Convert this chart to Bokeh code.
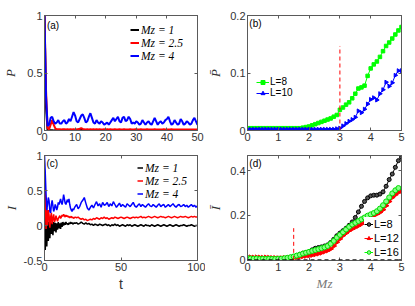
import math
from bokeh.plotting import figure
from bokeh.layouts import row, column
from bokeh.models import Legend, LegendItem, Label, Span, FixedTicker, LinearAxis
from bokeh.embed import file_html
from bokeh.resources import INLINE

# ---------------- data ----------------
# panel (a): P vs t
t_a = [i * 0.5 for i in range(101)]
p_a_mz1 = [1.0, 0.2, 0.0, 0.004, 0.002, 0.003, 0.001, 0.002, 0.003, 0.002,
           0.002, 0.003, 0.001, 0.002, 0.003, 0.002, 0.001, 0.002, 0.003, 0.002,
           0.002, 0.001, 0.003, 0.002, 0.004, 0.002, 0.001, 0.002, 0.002, 0.003,
           0.002, 0.001, 0.002, 0.003, 0.002, 0.001, 0.002, 0.002, 0.003, 0.002,
           0.001, 0.002, 0.003, 0.002, 0.001, 0.002, 0.002, 0.003, 0.002, 0.001,
           0.002, 0.003, 0.002, 0.001, 0.002, 0.002, 0.003, 0.002, 0.001, 0.002,
           0.003, 0.002, 0.001, 0.002, 0.002, 0.003, 0.002, 0.001, 0.002, 0.003,
           0.002, 0.001, 0.002, 0.002, 0.003, 0.002, 0.001, 0.002, 0.003, 0.002,
           0.001, 0.002, 0.002, 0.003, 0.002, 0.001, 0.002, 0.003, 0.002, 0.001,
           0.002, 0.002, 0.003, 0.002, 0.001, 0.002, 0.003, 0.002, 0.001, 0.002,
           0.002]
p_a_mz25 = [1.0, 0.35, 0.02, 0.01, 0.05, 0.09, 0.05, 0.02, 0.01, 0.01,
            0.01, 0.008, 0.01, 0.012, 0.008, 0.01, 0.009, 0.011, 0.008, 0.01,
            0.009, 0.01, 0.012, 0.015, 0.02, 0.014, 0.01, 0.008, 0.01, 0.009,
            0.01, 0.008, 0.01, 0.009, 0.011, 0.008, 0.01, 0.009, 0.008, 0.01,
            0.009, 0.01, 0.008, 0.01, 0.009, 0.008, 0.01, 0.009, 0.008, 0.01,
            0.009, 0.008, 0.01, 0.009, 0.008, 0.009, 0.01, 0.008, 0.009, 0.01,
            0.012, 0.009, 0.008, 0.01, 0.009, 0.008, 0.009, 0.01, 0.008, 0.009,
            0.008, 0.009, 0.01, 0.008, 0.009, 0.008, 0.009, 0.008, 0.01, 0.009,
            0.008, 0.009, 0.008, 0.01, 0.009, 0.008, 0.009, 0.008, 0.009, 0.008,
            0.009, 0.008, 0.009, 0.008, 0.009, 0.008, 0.009, 0.008, 0.009, 0.008,
            0.008]
p_a_mz4 = [1.0, 0.3, 0.04, 0.05, 0.11, 0.12, 0.08, 0.06, 0.07, 0.09,
           0.06, 0.06, 0.08, 0.09, 0.06, 0.07, 0.1, 0.08, 0.12, 0.16,
           0.13, 0.08, 0.07, 0.1, 0.13, 0.14, 0.11, 0.07, 0.08, 0.12,
           0.15, 0.11, 0.07, 0.06, 0.09, 0.07, 0.06, 0.08, 0.07, 0.05,
           0.06, 0.07, 0.05, 0.07, 0.09, 0.11, 0.08, 0.1, 0.12, 0.08,
           0.07, 0.11, 0.12, 0.08, 0.09, 0.12, 0.1, 0.06, 0.07, 0.06,
           0.08, 0.07, 0.05, 0.06, 0.09, 0.07, 0.05, 0.07, 0.08, 0.06,
           0.05, 0.08, 0.11, 0.08, 0.05, 0.07, 0.08, 0.06, 0.07, 0.09,
           0.1, 0.12, 0.08, 0.05, 0.06, 0.09, 0.07, 0.05, 0.06, 0.1,
           0.08, 0.05, 0.06, 0.08, 0.07, 0.05, 0.06, 0.09, 0.11, 0.08,
           0.05]

# panel (b): time-averaged P vs Mz
mz_b = [i / 10 for i in range(51)]
pbar_L8 = [0.004, 0.004, 0.004, 0.004, 0.004, 0.004, 0.004, 0.004, 0.004, 0.004,
           0.004, 0.004, 0.004, 0.004, 0.004, 0.004, 0.004, 0.004, 0.005, 0.006,
           0.007, 0.009, 0.011, 0.013, 0.015, 0.017, 0.019, 0.021, 0.024, 0.027,
           0.036, 0.04, 0.045, 0.049, 0.056, 0.064, 0.073, 0.075, 0.078, 0.095,
           0.108, 0.115, 0.12, 0.128, 0.138, 0.147, 0.153, 0.16, 0.167, 0.174,
           0.18]
pbar_L10 = [0.002, 0.002, 0.002, 0.002, 0.002, 0.002, 0.002, 0.002, 0.002, 0.002,
            0.002, 0.002, 0.002, 0.002, 0.002, 0.002, 0.002, 0.002, 0.002, 0.002,
            0.002, 0.002, 0.002, 0.002, 0.002, 0.002, 0.002, 0.002, 0.002, 0.003,
            0.004, 0.008, 0.012, 0.016, 0.019, 0.023, 0.034, 0.031, 0.037, 0.046,
            0.054, 0.057, 0.053, 0.064, 0.071, 0.084, 0.077, 0.083, 0.096, 0.104,
            0.104]
b_crit_mz = 3.0
b_crit_top = 0.147

# panel (c): I vs t
t_c = [i * 0.5 for i in range(41)] + list(range(21, 101))
i_c_mz1 = [0.8, -0.35, 0.15, -0.3, 0.1, -0.22, 0.05, -0.18, 0.08, -0.12,
           0.04, -0.14, 0.05, -0.08, 0.04, -0.1, 0.03, -0.06, 0.05, -0.04,
           0.03, -0.05, 0.04, -0.02, 0.05, 0.0, 0.04, 0.01, 0.05, 0.02,
           0.03, 0.01, 0.04, 0.02, 0.05, 0.03, 0.04, 0.02, 0.03, 0.04,
           0.03,
           0.04, 0.02, 0.03, 0.05, 0.03, 0.02, 0.04, 0.02, 0.03, 0.01,
           0.02, 0.0, 0.02, 0.01, 0.0, 0.02, 0.01, 0.0, 0.01, 0.02,
           0.0, 0.01, -0.01, 0.01, 0.0, 0.02, 0.0, 0.01, -0.01, 0.0,
           0.01, 0.0, -0.01, 0.01, 0.0, 0.01, -0.01, 0.0, 0.01, 0.0,
           -0.01, 0.0, 0.01, 0.0, -0.01, 0.01, 0.0, 0.0, -0.01, 0.01,
           0.0, -0.01, 0.0, 0.01, 0.0, -0.01, 0.0, 0.01, 0.0, -0.01,
           0.0, 0.01, 0.0, -0.01, 0.0, 0.01, 0.0, -0.01, 0.0, 0.0,
           0.01, 0.0, -0.01, 0.0, 0.0, 0.01, 0.0, -0.01, 0.0, 0.0]
i_c_mz25 = [0.7, 0.45, -0.05, 0.25, 0.0, 0.22, 0.15, -0.03, 0.12, 0.18,
            0.02, 0.1, 0.16, 0.05, 0.08, 0.14, 0.1, 0.06, 0.1, 0.12,
            0.14, 0.1, 0.12, 0.15, 0.13, 0.16, 0.14, 0.12, 0.15, 0.13,
            0.14, 0.12, 0.13, 0.11, 0.12, 0.13, 0.11, 0.12, 0.1, 0.11,
            0.12,
            0.11, 0.12, 0.1, 0.09, 0.1, 0.08, 0.09, 0.07, 0.08, 0.09,
            0.08, 0.1, 0.09, 0.11, 0.1, 0.09, 0.11, 0.1, 0.12, 0.1,
            0.11, 0.09, 0.1, 0.11, 0.1, 0.12, 0.11, 0.1, 0.11, 0.12,
            0.11, 0.1, 0.11, 0.12, 0.11, 0.1, 0.11, 0.12, 0.11, 0.12,
            0.11, 0.12, 0.13, 0.11, 0.12, 0.11, 0.12, 0.13, 0.12, 0.11,
            0.12, 0.13, 0.12, 0.11, 0.12, 0.13, 0.12, 0.12, 0.11, 0.12,
            0.13, 0.12, 0.11, 0.12, 0.13, 0.12, 0.11, 0.12, 0.13, 0.12,
            0.12, 0.13, 0.12, 0.11, 0.12, 0.13, 0.12, 0.13, 0.12, 0.12]
i_c_mz4 = [1.0, 0.75, 0.45, 0.22, 0.3, 0.4, 0.35, 0.2, 0.18, 0.3,
           0.36, 0.28, 0.2, 0.24, 0.3, 0.27, 0.22, 0.26, 0.33, 0.3,
           0.34, 0.38, 0.33, 0.3, 0.36, 0.44, 0.38, 0.32, 0.3, 0.34,
           0.37, 0.33, 0.38, 0.3, 0.25, 0.22, 0.2, 0.24, 0.22, 0.25,
           0.27,
           0.3, 0.24, 0.27, 0.33, 0.36, 0.4, 0.32, 0.25, 0.22, 0.26,
           0.29, 0.25, 0.3, 0.34, 0.28, 0.31, 0.26, 0.33, 0.29, 0.3,
           0.33, 0.27, 0.31, 0.28, 0.34, 0.3, 0.26, 0.29, 0.32, 0.27,
           0.3, 0.28, 0.26, 0.31, 0.29, 0.27, 0.3, 0.33, 0.28, 0.26,
           0.29, 0.31, 0.27, 0.3, 0.28, 0.26, 0.29, 0.31, 0.28, 0.27,
           0.3, 0.28, 0.26, 0.29, 0.31, 0.27, 0.29, 0.3, 0.26, 0.28,
           0.3, 0.27, 0.29, 0.31, 0.28, 0.26, 0.29, 0.3, 0.27, 0.28,
           0.3, 0.27, 0.29, 0.26, 0.28, 0.3, 0.27, 0.29, 0.26, 0.28]

# panel (d): time-averaged I vs Mz
mz_d = [i / 10 for i in range(51)]
mz_d16 = [i / 10 for i in range(50)]
ibar_L8 = [0.005, 0.004, 0.003, 0.004, 0.003, 0.002, 0.002, 0.003, 0.002, 0.002,
           0.003, 0.004, 0.006, 0.008, 0.011, 0.015, 0.02, 0.025, 0.03, 0.033,
           0.036, 0.045, 0.052, 0.055, 0.058, 0.062, 0.067, 0.078, 0.092, 0.108,
           0.12, 0.131, 0.142, 0.155, 0.17, 0.19, 0.215, 0.24, 0.262, 0.278,
           0.287, 0.29, 0.29, 0.295, 0.305, 0.33, 0.36, 0.385, 0.415, 0.445,
           0.46]
ibar_L12 = [0.012, 0.011, 0.01, 0.011, 0.01, 0.009, 0.01, 0.009, 0.008, 0.008,
            0.007, 0.007, 0.008, 0.008, 0.009, 0.01, 0.012, 0.014, 0.016, 0.018,
            0.02, 0.022, 0.025, 0.028, 0.032, 0.037, 0.042, 0.049, 0.062, 0.079,
            0.094, 0.109, 0.12, 0.131, 0.139, 0.146, 0.153, 0.161, 0.172, 0.184,
            0.192, 0.2, 0.206, 0.213, 0.225, 0.243, 0.262, 0.28, 0.292, 0.303,
            0.31]
ibar_L16 = [0.008, 0.006, 0.005, 0.006, 0.004, 0.005, 0.004, 0.005, 0.004, 0.004,
            0.005, 0.005, 0.007, 0.009, 0.012, 0.015, 0.019, 0.023, 0.028, 0.032,
            0.036, 0.04, 0.044, 0.048, 0.052, 0.056, 0.062, 0.072, 0.085, 0.1,
            0.112, 0.124, 0.136, 0.148, 0.158, 0.166, 0.174, 0.182, 0.19, 0.198,
            0.204, 0.21, 0.218, 0.23, 0.245, 0.262, 0.28, 0.298, 0.312, 0.322]
d_crit_mz = 1.5
d_crit_top = 0.142

# ticks
ticks_a_x = [0, 10, 20, 30, 40, 50]
ticks_a_y = [0, 0.5, 1]
labels_a_y = ["0", "0.5", "1"]
ticks_b_x = [0, 1, 2, 3, 4, 5]
ticks_b_y = [0, 0.1, 0.2]
labels_b_y = ["0", "0.1", "0.2"]
ticks_c_x = [0, 50, 100]
ticks_c_y = [-0.5, 0, 0.5, 1]
labels_c_y = ["-0.5", "0", "0.5", "1"]
ticks_d_x = [0, 1, 2, 3, 4, 5]
ticks_d_y = [0, 0.2, 0.4]
labels_d_y = ["0", "0.2", "0.4"]

AX = "#5a5a5a"
TXT = "#333333"
TICK_FONT = "Liberation Sans"
SERIF = "Liberation Serif"


def style_axis(ax):
    ax.axis_line_color = AX
    ax.major_tick_line_color = AX
    ax.major_tick_in = 3
    ax.major_tick_out = 0
    ax.minor_tick_line_color = None
    ax.major_label_text_font = TICK_FONT
    ax.major_label_text_font_size = "11px"
    ax.major_label_text_color = TXT
    ax.axis_label_text_color = TXT
    ax.major_label_standoff = 2


def make_fig(w, h, xr, yr, bl, br, bt, bb, xt, yt, ylab):
    p = figure(width=w, height=h, x_range=xr, y_range=yr,
               output_backend="svg", toolbar_location=None,
               min_border_left=bl, min_border_right=br,
               min_border_top=bt, min_border_bottom=bb)
    p.grid.visible = False
    p.outline_line_color = AX
    p.outline_line_alpha = 1
    p.outline_line_width = 1
    bottom = p.below[0]
    left = p.left[0]
    for ax in (bottom, left):
        style_axis(ax)
    bottom.ticker = FixedTicker(ticks=xt)
    left.ticker = FixedTicker(ticks=yt)
    left.major_label_overrides = {float(v): s for v, s in zip(yt, ylab)}
    # mirrored inward ticks on top and right (box on), no labels drawn
    top = LinearAxis(ticker=FixedTicker(ticks=xt))
    right = LinearAxis(ticker=FixedTicker(ticks=yt))
    for ax in (top, right):
        style_axis(ax)
        ax.major_label_text_font_size = "0px"
        ax.major_label_text_color = None
        ax.major_label_standoff = 0
        ax.axis_label_standoff = 0
    p.add_layout(top, "above")
    p.add_layout(right, "right")
    return p, bottom, left


def ylabel(ax, text, standoff, size="13px"):
    ax.axis_label = text
    ax.axis_label_text_font = SERIF
    ax.axis_label_text_font_style = "italic"
    ax.axis_label_text_font_size = size
    ax.axis_label_standoff = standoff


def panel_label(p, x, y, text):
    p.add_layout(Label(x=x, y=y, text=text, text_font=TICK_FONT,
                       text_font_size="10px", text_color="black",
                       text_baseline="top", text_align="left"))


def legend_style(lg, font, size, style, gw, gh, lh, standoff=2, lw=20):
    lg.label_text_font = font
    lg.label_text_font_size = size
    lg.label_text_font_style = style
    lg.label_text_color = "black"
    lg.glyph_width = gw
    lg.glyph_height = gh
    lg.label_height = lh
    lg.label_width = lw
    lg.spacing = 0
    lg.padding = 0
    lg.label_standoff = standoff
    lg.border_line_alpha = 0
    lg.background_fill_alpha = 0


# ---------------- (a) ----------------
pa, pa_x, pa_y = make_fig(205, 148, (0, 50), (0, 1), 41, 8, 15, 18,
                          ticks_a_x, ticks_a_y, labels_a_y)
ylabel(pa_y, "P", 6)
ra1 = pa.line(t_a, p_a_mz1, color="black", line_width=2)
ra2 = pa.line(t_a, p_a_mz25, color="#ff0000", line_width=2)
ra3 = pa.line(t_a, p_a_mz4, color="#0000ff", line_width=2)
lga = Legend(items=[LegendItem(label="Mz = 1", renderers=[ra1]),
                    LegendItem(label="Mz = 2.5", renderers=[ra2]),
                    LegendItem(label="Mz = 4", renderers=[ra3])],
             location="top_right")
legend_style(lga, SERIF, "11.5px", "italic", 9, 13, 13, 2, 48)
lga.margin = 8
pa.add_layout(lga)
panel_label(pa, 0.8, 0.965, "(a)")

# ---------------- (b) ----------------
pb, pb_x, pb_y = make_fig(210, 148, (0, 5), (0, 0.2), 38, 14, 15, 18,
                          ticks_b_x, ticks_b_y, labels_b_y)
ylabel(pb_y, "P\u0304", 4)
rb1l = pb.line(mz_b, pbar_L8, color="#00ff00", line_width=1)
rb1m = pb.scatter(mz_b, pbar_L8, marker="square", size=3.5, color="#00ff00")
rb2l = pb.line(mz_b, pbar_L10, color="#0000ff", line_width=1)
rb2m = pb.scatter(mz_b, pbar_L10, marker="triangle", size=4, angle=-math.pi / 2,
                  color="#0000ff")
pb.line([b_crit_mz, b_crit_mz], [0, b_crit_top], color="#ff0000",
        line_dash="4 3", line_width=1)
lgb = Legend(items=[LegendItem(label="L=8", renderers=[rb1l, rb1m]),
                    LegendItem(label="L=10", renderers=[rb2l, rb2m])],
             location=(9, 32))
legend_style(lgb, TICK_FONT, "10px", "normal", 13, 10, 10, 1, 20)
lgb.margin = 0
pb.add_layout(lgb)
panel_label(pb, 0.06, 0.196, "(b)")

# ---------------- (c) ----------------
pc, pc_x, pc_y = make_fig(205, 157, (0, 100), (-0.5, 1), 41, 8, 7, 42,
                          ticks_c_x, ticks_c_y, labels_c_y)
ylabel(pc_y, "I", 2)
pc_x.axis_label = "t"
pc_x.axis_label_text_font = TICK_FONT
pc_x.axis_label_text_font_style = "normal"
pc_x.axis_label_text_font_size = "14px"
pc_x.axis_label_standoff = 2
rc1 = pc.line(t_c, i_c_mz1, color="black", line_width=1.5)
rc2 = pc.line(t_c, i_c_mz25, color="#ff0000", line_width=1.5)
rc3 = pc.line(t_c, i_c_mz4, color="#0000ff", line_width=1.5)
lgc = Legend(items=[LegendItem(label="Mz = 1", renderers=[rc1]),
                    LegendItem(label="Mz = 2.5", renderers=[rc2]),
                    LegendItem(label="Mz = 4", renderers=[rc3])],
             location="top_right")
legend_style(lgc, SERIF, "11.5px", "italic", 6, 13, 13, 2, 46)
lgc.margin = 6
pc.add_layout(lgc)
panel_label(pc, 1.3, 0.97, "(c)")

# ---------------- (d) ----------------
pd, pd_x, pd_y = make_fig(210, 157, (0, 5), (-0.003, 0.468), 38, 14, 7, 45,
                          ticks_d_x, ticks_d_y, labels_d_y)
ylabel(pd_y, "I\u0304", 4)
pd_x.axis_label = "Mz"
pd_x.axis_label_text_font = SERIF
pd_x.axis_label_text_font_style = "italic"
pd_x.axis_label_text_font_size = "13px"
pd_x.axis_label_text_color = "#777777"
pd_x.axis_label_standoff = 2
pd.add_layout(Span(location=0, dimension="width", line_color="black",
                   line_dash="4 3", line_width=1))
rd1l = pd.line(mz_d, ibar_L8, color="black", line_width=1)
rd1m = pd.scatter(mz_d, ibar_L8, marker="circle", size=4, line_color="black",
                  fill_color="#555555")
rd2l = pd.line(mz_d, ibar_L12, color="#ff0000", line_width=1)
rd2m = pd.scatter(mz_d, ibar_L12, marker="triangle", size=5, angle=-math.pi / 2,
                  color="#ff0000")
rd3l = pd.line(mz_d16, ibar_L16, color="#00ff00", line_width=1)
rd3m = pd.scatter(mz_d16, ibar_L16, marker="circle", size=5, line_color="#00dd00",
                  fill_color="#88ff88")
pd.line([d_crit_mz, d_crit_mz], [0, d_crit_top], color="#ff0000",
        line_dash="4 3", line_width=1)
lgd = Legend(items=[LegendItem(label="L=8", renderers=[rd1l, rd1m]),
                    LegendItem(label="L=12", renderers=[rd2l, rd2m]),
                    LegendItem(label="L=16", renderers=[rd3l, rd3m])],
             location="bottom_right")
legend_style(lgd, TICK_FONT, "11px", "normal", 9, 14, 14, 1, 26)
lgd.margin = 1
lgd.background_fill_alpha = 1
lgd.background_fill_color = "white"
pd.add_layout(lgd)
panel_label(pd, 0.06, 0.455, "(d)")

layout = column(row(pa, pb), row(pc, pd))

open("out.html", "w").write(file_html(layout, INLINE))
